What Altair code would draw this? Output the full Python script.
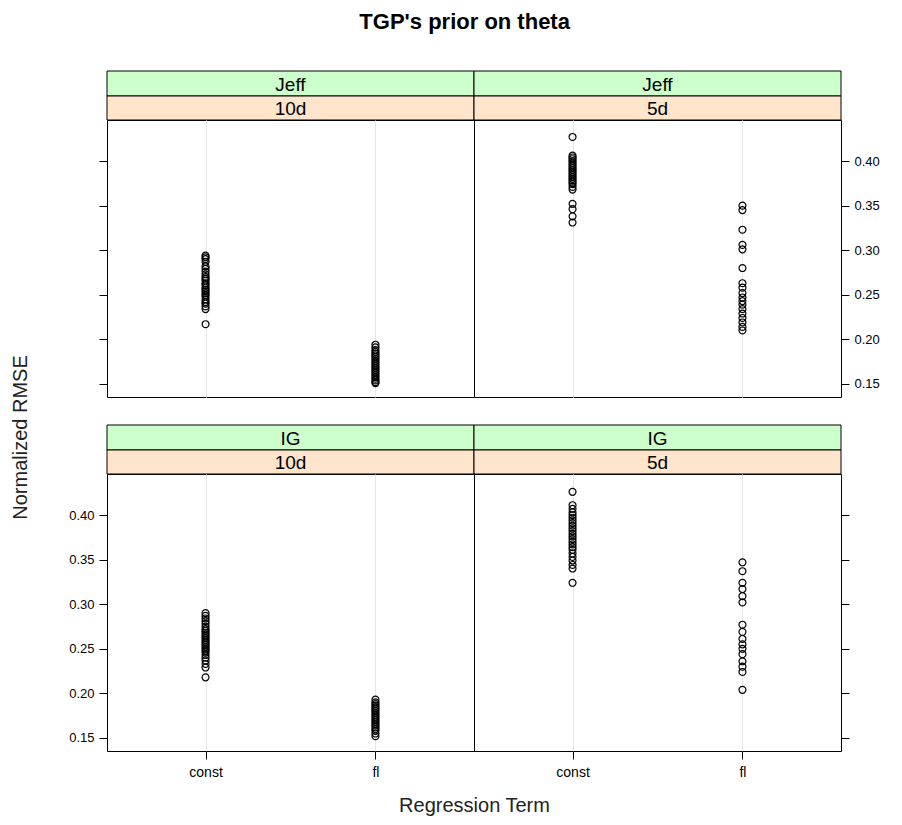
import altair as alt
import pandas as pd

FONT = "Liberation Sans"
GREEN = "#CCFFCC"
ORANGE = "#FFE5CC"

# strip labels
prior_labels = ["Jeff", "Jeff", "IG", "IG"]
dim_labels = ["10d", "5d", "10d", "5d"]
term_labels = ["const", "fl"]
y_ticks = [0.15, 0.20, 0.25, 0.30, 0.35, 0.40]

# Normalized RMSE values
jeff_10d_const = [0.294, 0.292, 0.290, 0.287, 0.282, 0.279, 0.276, 0.273, 0.270, 0.268,
                  0.266, 0.263, 0.261, 0.258, 0.256, 0.254, 0.252, 0.250, 0.248, 0.245,
                  0.242, 0.240, 0.237, 0.234, 0.217]
jeff_10d_fl = [0.194, 0.191, 0.188, 0.186, 0.184, 0.182, 0.180, 0.178, 0.176, 0.174,
               0.172, 0.170, 0.168, 0.166, 0.164, 0.162, 0.160, 0.158, 0.156, 0.154,
               0.152, 0.151]
jeff_5d_const = [0.427, 0.406, 0.404, 0.402, 0.400, 0.398, 0.396, 0.394, 0.392, 0.390,
                 0.388, 0.386, 0.384, 0.382, 0.380, 0.378, 0.376, 0.374, 0.371, 0.368,
                 0.352, 0.346, 0.338, 0.331]
jeff_5d_fl = [0.350, 0.345, 0.323, 0.306, 0.301, 0.280, 0.263, 0.258, 0.252, 0.247,
              0.243, 0.239, 0.234, 0.229, 0.224, 0.219, 0.214, 0.210]
ig_10d_const = [0.290, 0.287, 0.284, 0.281, 0.278, 0.275, 0.272, 0.270, 0.268, 0.266,
                0.264, 0.262, 0.260, 0.258, 0.256, 0.254, 0.252, 0.250, 0.248, 0.246,
                0.243, 0.240, 0.237, 0.233, 0.229, 0.218]
ig_10d_fl = [0.193, 0.190, 0.188, 0.186, 0.184, 0.182, 0.180, 0.178, 0.176, 0.174,
             0.172, 0.170, 0.168, 0.166, 0.164, 0.162, 0.160, 0.158, 0.155, 0.152]
ig_5d_const = [0.426, 0.411, 0.407, 0.403, 0.400, 0.397, 0.394, 0.391, 0.388, 0.385,
               0.382, 0.379, 0.376, 0.373, 0.370, 0.367, 0.364, 0.361, 0.357, 0.353,
               0.349, 0.344, 0.340, 0.324]
ig_5d_fl = [0.347, 0.337, 0.324, 0.317, 0.309, 0.302, 0.277, 0.269, 0.261, 0.255,
            0.250, 0.244, 0.236, 0.230, 0.224, 0.204]

W, H = 367, 277
YDOM = [0.1354, 0.446]
XDOM = [0.42, 2.58]


def make_df(c, f):
    return pd.DataFrame({
        "term": [term_labels[0]] * len(c) + [term_labels[1]] * len(f),
        "pos": [1] * len(c) + [2] * len(f),
        "rmse": c + f,
    })


def strip(label, color, h, offset=0):
    d = pd.DataFrame({"label": [label]})
    rect = alt.Chart(d).mark_rect(fill=color, stroke="black", strokeWidth=1).encode(
        x=alt.value(0), x2=alt.value(W), y=alt.value(offset), y2=alt.value(offset + h))
    txt = alt.Chart(d).mark_text(font=FONT, fontSize=19, color="black", baseline="middle",
                                 align="center").encode(
        x=alt.value(W / 2), y=alt.value(offset + h / 2 + 1), text="label:N")
    return alt.layer(rect, txt).properties(width=W, height=offset + h)


def panel(df, y_orient, y_labels, x_labels, y_title=False, x_title=False):
    yk = dict(orient=y_orient, values=y_ticks, format=".2f", grid=False, domain=False,
              ticks=True, tickSize=8, tickColor="black", labels=y_labels,
              labelFontSize=13, labelFont=FONT, labelColor="black", labelPadding=5)
    if y_title:
        yk.update(title="Normalized RMSE", titleX=-77, titleY=-37, titleFont=FONT,
                  titleFontSize=20, titleFontWeight="normal", titleColor="#222222",
                  titleAngle=-90, titleAlign="center")
    else:
        yk.update(title=None)
    xk = dict(values=[1, 2], labelExpr="datum.value == 1 ? 'const' : 'fl'", grid=True,
              gridColor="#E6E6E6", gridWidth=1, domain=False, ticks=x_labels, tickSize=8,
              tickColor="black", labels=x_labels, labelFontSize=14, labelFont=FONT,
              labelColor="black", labelPadding=6)
    if x_title:
        xk.update(title="Regression Term", titleX=W, titleY=44, titleFont=FONT,
                  titleFontSize=20, titleFontWeight="normal", titleColor="#222222",
                  titleAlign="center", titleBaseline="top")
    else:
        xk.update(title=None)
    return alt.Chart(df).mark_point(shape="circle", filled=False, color="black", size=48,
                                    strokeWidth=1.2, opacity=1).encode(
        x=alt.X("pos:Q", scale=alt.Scale(domain=XDOM, nice=False, zero=False), axis=alt.Axis(**xk)),
        y=alt.Y("rmse:Q", scale=alt.Scale(domain=YDOM, nice=False, zero=False), axis=alt.Axis(**yk)),
    ).properties(width=W, height=H, view=alt.ViewBackground(stroke="black", strokeWidth=1))


charts = [
    strip(prior_labels[0], GREEN, 25), strip(prior_labels[1], GREEN, 25),
    strip(dim_labels[0], ORANGE, 24), strip(dim_labels[1], ORANGE, 24),
    panel(make_df(jeff_10d_const, jeff_10d_fl), "left", False, False),
    panel(make_df(jeff_5d_const, jeff_5d_fl), "right", True, False),
    strip(prior_labels[2], GREEN, 25, offset=28), strip(prior_labels[3], GREEN, 25, offset=28),
    strip(dim_labels[2], ORANGE, 24), strip(dim_labels[3], ORANGE, 24),
    panel(make_df(ig_10d_const, ig_10d_fl), "left", True, True, y_title=True, x_title=True),
    panel(make_df(ig_5d_const, ig_5d_fl), "right", False, True),
]

chart = alt.concat(*charts, columns=2, spacing=0, bounds="flush").properties(
    title=alt.TitleParams(text="TGP's prior on theta", font=FONT, fontSize=22,
                          fontWeight="bold", color="black", anchor="middle", offset=37, dx=20),
    padding={"left": 9, "top": 10, "right": 5, "bottom": 5},
).configure_view(stroke=None)

chart.save("out.html", embed_options={"renderer": "svg", "actions": False})
